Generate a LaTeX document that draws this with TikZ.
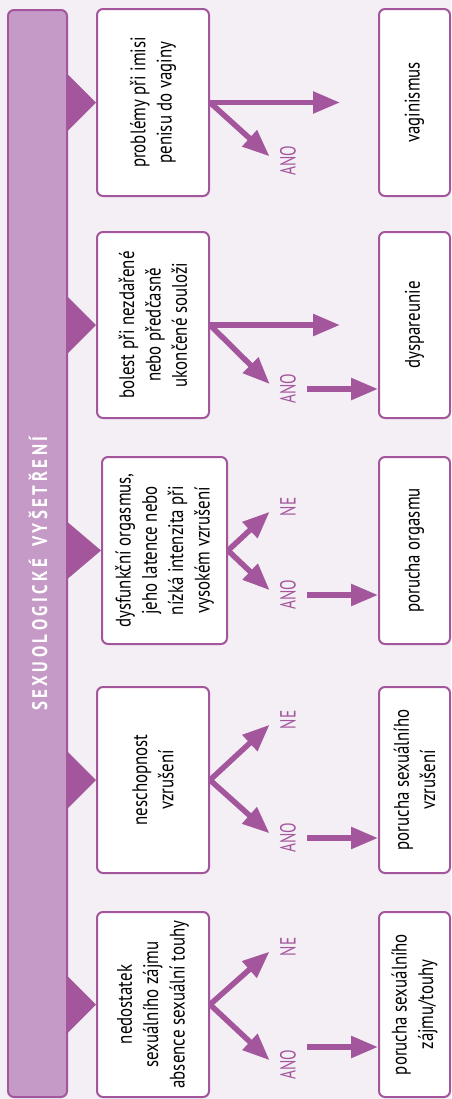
\documentclass[tikz,border=0pt]{standalone}
\usepackage{fontspec}
\setmainfont{PT Sans}[FakeStretch=0.8]
\newfontfamily\labfont{PT Sans}[FakeStretch=0.7]
\newfontfamily\titfont{PT Sans}[FakeStretch=0.8]
\usetikzlibrary{arrows.meta,calc}

\definecolor{lila}{HTML}{A3569C}
\definecolor{lilabar}{HTML}{C59AC6}
\definecolor{lilabg}{HTML}{F4EFF5}

\begin{document}
\begin{tikzpicture}[x=0.02cm, y=-0.02cm,
  box/.style={draw=lila, line width=0.04cm, fill=white, rounded corners=0.12cm, rotate=90, align=center, inner sep=0pt, font=\fontsize{12}{15}\selectfont},
  lab/.style={text=lila, rotate=90, inner sep=0.1cm, font=\labfont\fontsize{12.5}{12.5}\selectfont},
  arr/.style={draw=lila, line width=0.11cm, -{Triangle[length=0.54cm,width=0.42cm]}}]

  \def\p{0.02cm};

  %background
  \fill[lilabg] (0,0) rectangle (451,1099);
  \useasboundingbox (0,0) rectangle (451,1099);

  %title bar
  \node[draw=lila, line width=0.04cm, fill=lilabar, rounded corners=0.12cm, rotate=90, minimum width=1087*\p, minimum height=59*\p] (bar) at (37.5,553.5) {};
  \node[rotate=90, text=white, font=\titfont\bfseries\fontsize{12}{12}\selectfont] (title) at (38,572)
    {\foreach \c in {S,E,X,U,O,L,O,G,I,C,K,É,~,V,Y,Š,E,T,Ř,E,N,Í}{\c\kern2pt}\unskip};

  %left column
  \foreach \r/\top/\bot/\xa/\xb/\txt in {
      1/9/196/97/209/{problémy při imisi\\penisu do vaginy},
      2/232/418/97/209/{bolest při nezdařené\\nebo předčasně\\ukončené souloži},
      3/457/644/102/227/{dysfunkční orgasmus,\\jeho latence nebo\\nízká intenzita při\\vysokém vzrušení},
      4/687/873/97/209/{neschopnost\\vzrušení},
      5/912/1097/97/209/{nedostatek\\sexuálního zájmu\\absence sexuální touhy}}{
    \node[box, minimum width={(\bot-\top)*\p}, minimum height={(\xb-\xa)*\p}] (L\r) at ({(\xa+\xb)/2},{(\top+\bot)/2}) {\txt};
  }

  %right column
  \foreach \r/\top/\bot/\txt in {
      1/9/196/vaginismus,
      2/232/418/dyspareunie,
      3/457/644/porucha orgasmu,
      4/687/873/{porucha sexuálního\\vzrušení},
      5/912/1097/{porucha sexuálního\\zájmu/touhy}}{
    \node[box, minimum width={(\bot-\top)*\p}, minimum height=71*\p] (R\r) at (414.5,{(\top+\bot)/2}) {\txt};
  }

  %arrows from the bar
  \foreach \r in {1,...,5}{
    \fill[lila] ($(bar.south |- L\r.north)+(0,-28)$) -- (L\r.north) -- ($(bar.south |- L\r.north)+(0,28)$) -- cycle;
  }

  %answers
  \foreach \r/\y in {1/161,2/389,3/595,4/838,5/1065}{
    \node[lab] (a\r) at (288,\y) {ANO};
  }
  \foreach \r/\y in {3/507,4/720,5/947}{
    \node[lab] (n\r) at (288,\y) {NE};
  }

  \foreach \r in {1,2}{
    \draw[arr] (L\r.south) -- ++(130,0);
  }
  \foreach \r in {1,...,5}{
    \draw[arr, shorten >=0.14cm] (L\r.south) -- (a\r.north);
  }
  \foreach \r in {3,4,5}{
    \draw[arr, shorten >=0.14cm] (L\r.south) -- (n\r.north);
  }
  \foreach \r/\off in {2/0,3/0,4/0,5/-18}{
    \coordinate (s\r) at ($(a\r.south)+(0,\off)$);
    \draw[arr, shorten <=0.12cm] (s\r) -- (s\r -| R\r.north);
  }

\end{tikzpicture}
\end{document}
